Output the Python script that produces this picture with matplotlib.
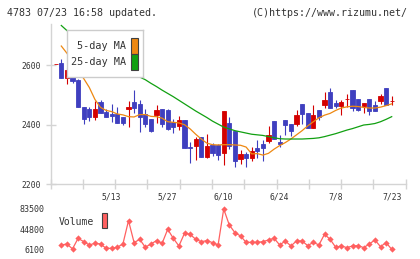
import numpy as np
import matplotlib
matplotlib.use("Agg")
import matplotlib.pyplot as plt
from matplotlib.patches import Rectangle

# ---------------- data ----------------
dates = ["4/24", "4/25", "4/26", "4/30", "5/1", "5/2", "5/7", "5/8", "5/9", "5/10",
         "5/13", "5/14", "5/15", "5/16", "5/17", "5/20", "5/21", "5/22", "5/23", "5/24",
         "5/27", "5/28", "5/29", "5/30", "5/31", "6/3", "6/4", "6/5", "6/6", "6/7",
         "6/10", "6/11", "6/12", "6/13", "6/14", "6/17", "6/18", "6/19", "6/20", "6/21",
         "6/24", "6/25", "6/26", "6/27", "6/28", "7/1", "7/2", "7/3", "7/4", "7/5",
         "7/8", "7/9", "7/10", "7/11", "7/12", "7/16", "7/17", "7/18", "7/19", "7/22",
         "7/23"]
label_dates = ["5/13", "5/27", "6/10", "6/24", "7/8", "7/23"]

opens = [2605, 2607, 2558, 2583, 2550, 2460, 2452, 2427, 2477, 2443,
         2435, 2435, 2427, 2453, 2476, 2469, 2436, 2419, 2431, 2453,
         2448, 2410, 2397, 2416, 2326, 2330, 2360, 2293, 2332, 2332,
         2304, 2407, 2380, 2285, 2302, 2289, 2323, 2335, 2346, 2412,
         2343, 2416, 2402, 2402, 2469, 2440, 2388, 2449, 2466, 2511,
         2473, 2464, 2485, 2516, 2486, 2464, 2486, 2466, 2479, 2522,
         2479]
highs = [2605, 2620, 2591, 2585, 2552, 2460, 2460, 2480, 2483, 2452,
         2470, 2458, 2427, 2480, 2516, 2483, 2453, 2419, 2466, 2453,
         2452, 2420, 2428, 2416, 2343, 2360, 2360, 2369, 2340, 2335,
         2446, 2427, 2380, 2315, 2309, 2325, 2349, 2349, 2397, 2412,
         2365, 2416, 2402, 2449, 2469, 2440, 2466, 2449, 2509, 2524,
         2483, 2483, 2503, 2516, 2486, 2473, 2486, 2480, 2503, 2522,
         2496]
lows = [2605, 2557, 2536, 2539, 2458, 2402, 2414, 2416, 2440, 2427,
        2410, 2407, 2399, 2393, 2438, 2377, 2392, 2377, 2405, 2392,
        2382, 2373, 2382, 2321, 2272, 2282, 2290, 2287, 2296, 2282,
        2265, 2320, 2259, 2269, 2259, 2278, 2287, 2278, 2340, 2352,
        2326, 2365, 2362, 2396, 2401, 2388, 2388, 2416, 2455, 2457,
        2457, 2433, 2460, 2446, 2446, 2440, 2433, 2447, 2470, 2466,
        2466]
closes = [2605, 2557, 2583, 2548, 2458, 2419, 2427, 2452, 2440, 2427,
          2428, 2407, 2405, 2460, 2457, 2427, 2401, 2380, 2449, 2401,
          2386, 2393, 2416, 2321, 2322, 2352, 2293, 2328, 2306, 2298,
          2446, 2329, 2279, 2302, 2289, 2312, 2313, 2323, 2365, 2352,
          2335, 2399, 2379, 2433, 2436, 2388, 2433, 2427, 2483, 2457,
          2464, 2477, 2486, 2457, 2450, 2473, 2447, 2447, 2496, 2466,
          2481]

ma5 = [np.nan, 2664, 2640, 2612, 2580, 2555, 2525, 2485, 2458, 2448,
       2444, 2436, 2433, 2427, 2426, 2434, 2434, 2428, 2427, 2422,
       2410, 2408, 2406, 2400, 2386, 2368, 2352, 2338, 2333, 2332,
       2333, 2333, 2332, 2331, 2325, 2302, 2303, 2298, 2304, 2318,
       2330, 2340, 2352, 2366, 2380, 2396, 2410, 2423, 2432, 2438,
       2448, 2456, 2460, 2462, 2461, 2458, 2456, 2456, 2459, 2464,
       2470]
ma25 = [np.nan, 2733, 2716, 2703, 2690, 2676, 2665, 2652, 2640, 2628,
        2617, 2605, 2593, 2582, 2570, 2560, 2551, 2539, 2528, 2516,
        2505, 2494, 2482, 2470, 2458, 2446, 2435, 2424, 2412, 2402,
        2392, 2386, 2380, 2376, 2372, 2368, 2366, 2364, 2360, 2356,
        2353, 2352, 2352, 2352, 2352, 2353, 2354, 2356, 2360, 2365,
        2370, 2376, 2382, 2387, 2393, 2399, 2401, 2404, 2410, 2418,
        2427]

volume = [np.nan, 14400, 16300, 6900, 27200, 20800, 14400, 17600, 16300, 8000,
          8000, 10000, 16300, 61100, 18900, 25300, 10000, 16300, 22700, 17600,
          44500, 27200, 12500, 36800, 34900, 25300, 20800, 22700, 18900, 14400,
          83500, 52800, 38100, 31700, 19500, 19500, 19500, 20800, 24000, 27200,
          14400, 22100, 12500, 22100, 22100, 13100, 19500, 14400, 34900, 25300,
          10000, 12500, 9300, 12500, 13100, 9300, 16300, 24000, 11200, 18900,
          6100]

price_ticks = [2200, 2400, 2600]
vol_ticks = [6100, 44800, 83500]

title_left = "4783 07/23 16:58 updated."
title_right = "(C)https://www.rizumu.net/"

# ---------------- style ----------------
W, H = 420, 259
UP = "#d40000"
DOWN = "#3f3fbf"
C_MA5 = "#ee8811"
C_MA25 = "#11a011"
C_VOL = "#ff6060"
GRID = "#d4d4d4"
TXT = "#333333"
MONO = ["DejaVu Sans Mono"]

def fx(px):
    return px / W

def fy(py):
    return 1 - py / H

def rect(x0, y0, x1, y1):
    """pixel box (top-left origin) -> figure [left, bottom, width, height]"""
    return [fx(x0), fy(y1), fx(x1) - fx(x0), fy(y0) - fy(y1)]

fig = plt.figure(figsize=(W / 100, H / 100), dpi=100)
fig.patch.set_facecolor("white")

x = np.arange(len(dates))
xlim = (-0.93, 62.5)

# price axes
axp = fig.add_axes(rect(50.5, 24, 405.7, 184.3))
axp.set_xlim(*xlim)
axp.set_ylim(2200, 2738)

o = np.array(opens, float)
c = np.array(closes, float)
hi = np.array(highs, float)
lo = np.array(lows, float)
colors = [UP if cc >= oo else DOWN for oo, cc in zip(o, c)]
axp.vlines(x, lo, hi, colors=colors, linewidth=0.8, zorder=2)
axp.bar(x, np.abs(c - o), bottom=np.minimum(o, c), width=0.78, color=colors,
        edgecolor=colors, linewidth=0.6, zorder=3)
axp.plot(x, ma5, color=C_MA5, linewidth=0.9, zorder=4)
axp.plot(x, ma25, color=C_MA25, linewidth=0.9, zorder=4)

for s in ["top", "right"]:
    axp.spines[s].set_visible(False)
for s in ["left", "bottom"]:
    axp.spines[s].set_color(GRID)
    axp.spines[s].set_linewidth(1.0)

axp.set_yticks(price_ticks)
axp.set_yticklabels([str(v) for v in price_ticks], family=MONO, fontsize=5.8, color=TXT)
axp.tick_params(axis="y", direction="inout", length=7, width=1.0, color=GRID, pad=3.6)

label_idx = [dates.index(d) for d in label_dates]
axp.set_xticks(label_idx)
axp.set_xticklabels(label_dates, family=MONO, fontsize=5.8, color=TXT)
axp.tick_params(axis="x", which="major", length=0, pad=6.2)
axp.set_xticks(np.linspace(xlim[0], xlim[1], 12), minor=True)
axp.tick_params(axis="x", which="minor", direction="inout", length=6.5, width=1.0, color=GRID)

# legend box as an opaque overlay axes
axl = fig.add_axes(rect(67, 30, 143, 77), zorder=10)
axl.set_facecolor("white")
axl.set_xlim(67, 143)
axl.set_ylim(77, 30)
axl.set_xticks([])
axl.set_yticks([])
for s in axl.spines.values():
    s.set_color("#cccccc")
    s.set_linewidth(1.0)
for label, col, yc in [("5-day MA", C_MA5, 45.5), ("25-day MA", C_MA25, 62.0)]:
    axl.text(126, yc, label, ha="right", va="center", family=MONO,
             fontsize=7.3, color=TXT)
    axl.add_patch(Rectangle((131, yc - 8), 6.5, 16, facecolor=col,
                            edgecolor="#404040", linewidth=0.8))

# volume axes
axv = fig.add_axes(rect(50.5, 205, 405.7, 254))
axv.set_xlim(*xlim)
axv.set_ylim(-2924, 91180)
axv.plot(x, volume, color=C_VOL, linewidth=0.9, marker="D", markersize=3.2,
         markeredgewidth=0)
for s in axv.spines.values():
    s.set_visible(False)
axv.set_xticks([])
axv.set_yticks(vol_ticks)
axv.set_yticklabels([str(v) for v in vol_ticks], family=MONO, fontsize=6, color=TXT)
axv.tick_params(axis="y", length=0, pad=4.5)

fig.text(fx(59), fy(222), "Volume", ha="left", va="center", family=MONO,
         fontsize=7, color=TXT)
fig.patches.append(Rectangle((fx(101.7), fy(228)), fx(5.6), fy(0) - fy(15),
                             transform=fig.transFigure, facecolor=C_VOL,
                             edgecolor="#404040", linewidth=0.8))

# header texts
fig.text(fx(7), fy(13), title_left, ha="left", va="center", family=MONO,
         fontsize=7.2, color=TXT)
fig.text(fx(408), fy(13), title_right, ha="right", va="center", family=MONO,
         fontsize=7.2, color=TXT)

fig.savefig("out.png", dpi=100, facecolor="white")
